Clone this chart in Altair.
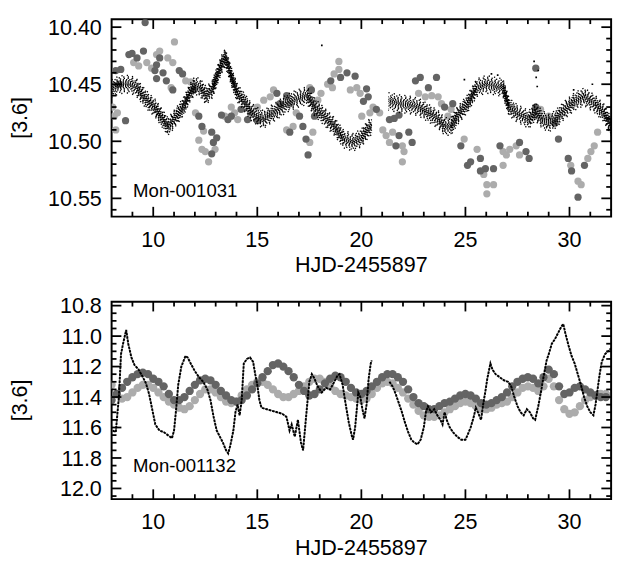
import altair as alt
import pandas as pd

# ---------------- top panel (Mon-001031) ----------------
top_black_t = [8.0, 8.3, 8.6, 8.9, 9.2, 9.5, 9.8, 10.1, 10.4, 10.7, 10.9, 11.2, 11.5, 11.75, 12.0,
               12.25, 12.55, 12.85, 13.1, 13.3, 13.45, 13.6, 13.8, 14.05, 14.35, 14.7, 15.0, 15.3,
               15.6, 15.95, 16.4, 16.85, 17.4, 17.75, 18.2, 18.7, 19.15, 19.6, 20.0, 20.3, 20.5,
               21.3, 21.8, 22.3, 22.75, 23.2, 23.7, 24.0, 24.3, 24.6, 25.1, 25.55, 26.0, 26.5, 26.8,
               27.1, 27.45, 27.75, 28.05, 28.35, 28.7, 29.0, 29.3, 29.8, 30.25, 30.7, 31.2, 31.65, 32.0]
top_black_m = [10.454, 10.451, 10.450, 10.450, 10.453, 10.460, 10.466, 10.471, 10.479, 10.487, 10.483,
               10.476, 10.468, 10.458, 10.451, 10.453, 10.460, 10.454, 10.441, 10.432, 10.427, 10.434,
               10.446, 10.458, 10.465, 10.474, 10.478, 10.481, 10.477, 10.473, 10.467, 10.463, 10.460,
               10.470, 10.478, 10.487, 10.498, 10.501, 10.497, 10.490, 10.486,
               10.465, 10.467, 10.468, 10.470, 10.475, 10.481, 10.487, 10.487, 10.478, 10.467, 10.453,
               10.450, 10.452, 10.453, 10.470, 10.475, 10.478, 10.481, 10.474, 10.481, 10.484, 10.481,
               10.472, 10.465, 10.461, 10.467, 10.475, 10.487]
# a few isolated black outliers above the band
top_out_t = [18.1, 24.95, 26.25, 26.55, 28.3, 28.4, 28.45, 28.5, 30.2, 31.1]
top_out_m = [10.416, 10.446, 10.441, 10.442, 10.430, 10.444, 10.452, 10.438, 10.455, 10.450]

top_dark_t = [8.20, 8.36, 8.44, 8.67, 8.83, 8.98, 9.22, 9.53, 9.61, 10.08, 10.16, 10.31, 10.47, 10.63,
              10.16, 10.94, 11.25, 11.41, 11.95, 12.19, 12.34, 12.81, 12.89, 13.05, 12.81, 13.28, 13.59,
              13.75, 14.22, 14.53, 15.0, 15.94, 16.09, 16.41, 16.56, 17.03, 17.19, 17.34,
              17.6, 17.75, 17.44, 18.53, 19.0, 19.31, 19.7, 20.25, 20.33, 20.1, 20.72, 21.35, 21.58,
              21.81, 21.81, 22.28, 22.44, 21.66, 22.6, 22.83, 23.61, 23.22, 24.0, 24.39, 25.1, 25.25,
              24.78, 25.72, 25.96, 26.35, 25.72, 26.66, 27.6, 27.91, 28.06, 28.38, 28.38, 29.31, 29.47,
              29.94, 30.1, 30.41, 30.72]
top_dark_m = [10.438, 10.450, 10.437, 10.482, 10.424, 10.423, 10.427, 10.421, 10.396, 10.438, 10.433,
              10.427, 10.440, 10.447, 10.445, 10.455, 10.438, 10.441, 10.455, 10.478, 10.487, 10.492,
              10.501, 10.497, 10.511, 10.477, 10.481, 10.478, 10.472, 10.481, 10.482, 10.458, 10.467,
              10.460, 10.492, 10.478, 10.487, 10.498,
              10.455, 10.478, 10.512, 10.447, 10.444, 10.440, 10.443, 10.454, 10.461, 10.465, 10.472,
              10.481, 10.480, 10.477, 10.495, 10.492, 10.501, 10.504, 10.447, 10.444, 10.444, 10.453,
              10.470, 10.467, 10.521, 10.518, 10.504, 10.515, 10.524, 10.524, 10.526, 10.504, 10.501,
              10.509, 10.515, 10.470, 10.436, 10.484, 10.498, 10.515, 10.526, 10.549, 10.521]

top_light_t = [8.05, 8.12, 8.28, 8.20, 9.06, 9.30, 9.69, 9.92, 10.16, 10.31, 11.02, 10.70, 10.94, 10.86,
               11.56, 11.80, 12.03, 12.42, 12.19, 12.34, 12.50, 12.66, 12.97, 13.44, 13.91, 14.06, 13.75,
               14.69, 15.0, 15.31, 15.62, 15.78, 16.56, 16.87, 16.41, 16.72,
               17.52, 17.67, 17.52, 17.91, 18.06, 18.38, 18.61, 18.69, 18.92, 18.92, 19.47, 19.78, 19.94,
               20.02, 20.56, 20.88, 20.41, 21.03, 21.19, 21.35, 21.5, 21.97, 22.05, 21.97, 22.75, 23.07,
               23.38, 23.69, 23.85, 24.16, 24.31, 24.94, 25.56, 25.88, 26.03, 26.03, 26.35, 26.81, 26.97,
               27.13, 27.44, 27.6, 26.81, 28.38, 28.61, 29.0, 30.06, 30.41, 30.56, 30.88, 31.03, 31.19,
               31.35]
top_light_m = [10.470, 10.478, 10.475, 10.490, 10.431, 10.434, 10.431, 10.436, 10.424, 10.421, 10.413,
               10.427, 10.431, 10.453, 10.447, 10.448, 10.475, 10.491, 10.499, 10.507, 10.509, 10.518,
               10.507, 10.478, 10.475, 10.481, 10.470, 10.475, 10.470, 10.464, 10.461, 10.455, 10.467,
               10.475, 10.490, 10.487,
               10.453, 10.492, 10.501, 10.464, 10.458, 10.450, 10.453, 10.441, 10.437, 10.430, 10.455,
               10.453, 10.458, 10.478, 10.470, 10.475, 10.475, 10.490, 10.495, 10.501, 10.492, 10.504,
               10.509, 10.518, 10.458, 10.461, 10.460, 10.461, 10.467, 10.478, 10.472, 10.498, 10.507,
               10.529, 10.538, 10.546, 10.538, 10.509, 10.512, 10.507, 10.504, 10.512, 10.521, 10.478,
               10.472, 10.478, 10.521, 10.535, 10.538, 10.515, 10.509, 10.504, 10.492]

# ---------------- bottom panel (Mon-001132) ----------------
bot_black_t = [8.05, 8.2, 8.35, 8.45, 8.55, 8.7, 8.8, 8.95, 9.1, 9.3, 9.5, 9.65, 9.8, 9.95, 10.1, 10.3,
               10.5, 10.7, 10.9, 11.0, 11.1, 11.2, 11.35, 11.55, 11.65, 11.8, 12.0, 12.2, 12.4, 12.6,
               12.75, 12.9, 13.05, 13.2, 13.35, 13.5, 13.6, 13.7, 13.85, 13.95, 14.05, 14.15, 14.25,
               14.35, 14.5, 14.65, 14.8, 14.9, 15.0, 15.1, 15.2, 15.45, 15.7, 15.95, 16.2, 16.4, 16.55,
               16.65, 16.8, 16.95, 17.1, 17.2, 17.35, 17.5, 17.62, 17.75, 17.9, 18.1, 18.3, 18.5, 18.7,
               18.85, 18.95, 19.1, 19.25, 19.4, 19.55, 19.6, 19.7, 19.8, 19.85, 19.95, 20.05, 20.15,
               20.25, 20.35, 20.45, 20.5,
               21.35, 21.5, 21.65, 21.8, 21.95, 22.1, 22.25, 22.4, 22.55, 22.7, 22.85, 23.0, 23.1, 23.2,
               23.35, 23.5, 23.65, 23.8, 23.9, 24.0, 24.1, 24.25, 24.4, 24.6, 24.8, 25.0, 25.1, 25.25,
               25.4, 25.5, 25.6, 25.75, 25.85, 25.95, 26.05, 26.2, 26.3, 26.45, 26.65, 26.85, 27.05,
               27.2, 27.35, 27.5, 27.65, 27.8, 27.95, 28.1, 28.25, 28.35, 28.5, 28.65, 28.75, 28.9,
               29.0, 29.15, 29.3, 29.45, 29.6, 29.7, 29.8, 29.95, 30.1, 30.25, 30.4, 30.55, 30.7,
               30.85, 31.0, 31.15, 31.25, 31.35, 31.45, 31.55, 31.7, 31.85, 32.0]
bot_black_m = [11.62, 11.63, 11.40, 11.12, 11.05, 10.96, 11.05, 11.14, 11.19, 11.22, 11.27, 11.31, 11.38,
               11.48, 11.58, 11.62, 11.63, 11.65, 11.67, 11.62, 11.48, 11.32, 11.20, 11.13, 11.14, 11.18,
               11.23, 11.27, 11.30, 11.35, 11.42, 11.53, 11.62, 11.66, 11.70, 11.75, 11.77, 11.72, 11.62,
               11.50, 11.45, 11.52, 11.42, 11.18, 11.15, 11.14, 11.17, 11.25, 11.32, 11.42, 11.47, 11.48,
               11.49, 11.50, 11.51, 11.53, 11.62, 11.58, 11.66, 11.55, 11.70, 11.75, 11.52, 11.30, 11.25,
               11.28, 11.33, 11.37, 11.34, 11.35, 11.30, 11.26, 11.25, 11.32, 11.45, 11.57, 11.66, 11.68,
               11.60, 11.45, 11.37, 11.40, 11.48, 11.54, 11.45, 11.28, 11.18, 11.16,
               11.30, 11.33, 11.38, 11.44, 11.50, 11.57, 11.63, 11.68, 11.70, 11.71, 11.68, 11.60, 11.50,
               11.46, 11.50, 11.48, 11.52, 11.55, 11.58, 11.50, 11.55, 11.60, 11.63, 11.66, 11.68, 11.68,
               11.65, 11.60, 11.53, 11.47, 11.50, 11.55, 11.45, 11.37, 11.28, 11.18, 11.22, 11.25, 11.27,
               11.29, 11.30, 11.33, 11.40, 11.46, 11.50, 11.52, 11.48, 11.50, 11.54, 11.55, 11.46, 11.35,
               11.27, 11.16, 11.12, 11.05, 11.02, 10.98, 10.94, 10.92, 10.98, 11.06, 11.13, 11.18, 11.25,
               11.32, 11.40, 11.46, 11.50, 11.52, 11.45, 11.35, 11.25, 11.17, 11.12, 11.10, 11.08]

bot_track_t = [8.0, 8.25, 8.5, 8.75, 9.0, 9.25, 9.5, 9.75, 10.0, 10.25, 10.5, 10.75, 11.0, 11.25, 11.5,
               11.75, 12.0, 12.25, 12.5, 12.75, 13.0, 13.25, 13.5, 13.75, 14.0, 14.25, 14.5, 14.75, 15.0,
               15.25, 15.5, 15.75, 16.0, 16.25, 16.5, 16.75, 17.0, 17.25, 17.5, 17.75, 18.0, 18.25, 18.5,
               18.75, 19.0, 19.25, 19.5, 19.75, 20.0, 20.25, 20.5, 20.75, 21.0, 21.25, 21.5, 21.75, 22.0,
               22.25, 22.5, 22.75, 23.0, 23.25, 23.5, 23.75, 24.0, 24.25, 24.5, 24.75, 25.0, 25.25, 25.5,
               25.75, 26.0, 26.25, 26.5, 26.75, 27.0, 27.25, 27.5, 27.75, 28.0, 28.25, 28.5, 28.75, 29.0,
               29.25, 29.5, 29.75, 30.0, 30.25, 30.5, 30.75, 31.0, 31.25, 31.5, 31.75]
bot_dark_m = [11.42, 11.38, 11.34, 11.30, 11.27, 11.25, 11.24, 11.25, 11.28, 11.30, 11.33, 11.38, 11.42,
              11.42, 11.40, 11.36, 11.32, 11.29, 11.28, 11.29, 11.32, 11.36, 11.39, 11.42, 11.43, 11.42,
              11.39, 11.35, 11.31, 11.27, 11.23, 11.19, 11.18, 11.20, 11.23, 11.27, 11.32, 11.36, 11.39,
              11.38, 11.35, 11.31, 11.28, 11.26, 11.27, 11.30, 11.34, 11.37, 11.38, 11.36, 11.33, 11.30,
              11.27, 11.25, 11.25, 11.27, 11.30, 11.35, 11.40, 11.44, 11.46, 11.48, 11.48, 11.46, 11.44,
              11.43, 11.41, 11.39, 11.38, 11.39, 11.41, 11.44, 11.45, 11.44, 11.42, 11.40, 11.37, 11.33,
              11.30, 11.28, 11.27, 11.28, 11.31, 11.27, 11.22, 11.25, 11.33, 11.38, 11.37, 11.34, 11.33,
              11.35, 11.37, 11.39, 11.40, 11.40]
bot_light_m = [11.32, 11.38, 11.41, 11.40, 11.37, 11.34, 11.32, 11.32, 11.34, 11.37, 11.40, 11.43, 11.45,
               11.47, 11.48, 11.46, 11.42, 11.38, 11.35, 11.35, 11.37, 11.40, 11.43, 11.44, 11.43, 11.39,
               11.35, 11.32, 11.30, 11.30, 11.32, 11.35, 11.38, 11.40, 11.40, 11.38, 11.36, 11.33, 11.30,
               11.28, 11.28, 11.30, 11.33, 11.36, 11.38, 11.39, 11.40, 11.41, 11.42, 11.41, 11.38, 11.34,
               11.31, 11.30, 11.31, 11.34, 11.37, 11.41, 11.45, 11.49, 11.52, 11.53, 11.53, 11.52, 11.50,
               11.48, 11.46, 11.44, 11.43, 11.44, 11.46, 11.48, 11.48, 11.47, 11.45, 11.44, 11.43, 11.40,
               11.37, 11.34, 11.33, 11.34, 11.36, 11.33, 11.28, 11.33, 11.42, 11.48, 11.51, 11.50, 11.46,
               11.42, 11.40, 11.39, 11.38, 11.38]

# ---------------- axes / ticks ----------------
x_major = [10, 15, 20, 25, 30]
x_minor = [9, 11, 12, 13, 14, 16, 17, 18, 19, 21, 22, 23, 24, 26, 27, 28, 29, 31]
top_y_major = [10.40, 10.45, 10.50, 10.55]
top_y_minor = [10.41, 10.42, 10.43, 10.44, 10.46, 10.47, 10.48, 10.49, 10.51, 10.52, 10.53, 10.54, 10.56]
bot_y_major = [10.8, 11.0, 11.2, 11.4, 11.6, 11.8, 12.0]
bot_y_minor = [10.85, 10.9, 10.95, 11.05, 11.1, 11.15, 11.25, 11.3, 11.35, 11.45, 11.5, 11.55, 11.65,
               11.7, 11.75, 11.85, 11.9, 11.95, 12.05]
x_title = "HJD-2455897"
y_title = "[3.6]"

GAP_DAY = 21.0  # observing gap: trace is split into two runs here

FONT = "Liberation Sans"
W, H = 511, 202
MAJ, MIN = 10, 5
TICKW = 1.8
FS = 22
VBAR = "M0,-1L0,1"   # symbol path for a vertical tick
HBAR = "M-1,0L1,0"   # symbol path for a horizontal tick


def panel(black_df, out_df, dark_df, light_df, ydom, ymaj, ymin, yfmt, name, name_y, band):
    xs = alt.Scale(domain=[8, 32], nice=False, zero=False)
    ys = alt.Scale(domain=ydom, nice=False, zero=False, reverse=True)
    X = alt.X("t:Q", scale=xs, axis=None)
    Y = alt.Y("m:Q", scale=ys, axis=None)
    XV = alt.X("v:Q", scale=xs, axis=None)
    YV = alt.Y("v:Q", scale=ys, axis=None)

    circ = 55 if band else 72
    layers = [
        alt.Chart(light_df).mark_circle(size=circ, color="#acacac", opacity=1, clip=True).encode(x=X, y=Y),
        alt.Chart(dark_df).mark_circle(size=circ, color="#646464", opacity=1, clip=True).encode(x=X, y=Y),
    ]
    if band:
        # dense scatter band drawn as offset copies of the light curve with irregular dotting
        copies = [(-9.0, 4.2, 0.0), (-7.4, 3.4, 1.3), (-6.0, 2.6, 2.2), (-4.7, 2.0, 0.7),
                  (-3.5, 1.5, 1.6), (-2.3, 1.2, 0.3), (-1.1, 1.0, 1.1), (0.0, 0.9, 0.5),
                  (1.1, 1.0, 1.4), (2.3, 1.3, 0.9), (3.5, 1.6, 1.9), (4.7, 2.1, 0.2),
                  (6.0, 2.7, 2.6), (7.4, 3.5, 1.0), (9.0, 4.4, 0.6)]
        for off, gap, dof in copies:
            layers.append(
                alt.Chart(black_df).mark_line(color="black", strokeWidth=1.4, strokeDash=[1.3, gap],
                                              strokeDashOffset=dof, yOffset=off, clip=True)
                .encode(x=X, y=Y, detail="seg:N")
            )
        layers.append(
            alt.Chart(out_df).mark_square(size=3, color="black", opacity=1, clip=True).encode(x=X, y=Y)
        )
    else:
        layers.append(
            alt.Chart(black_df).mark_line(color="black", strokeWidth=2.0, strokeDash=[2.6, 1.0], clip=True)
            .encode(x=X, y=Y, detail="seg:N")
        )
        layers.append(
            alt.Chart(black_df).mark_line(color="black", strokeWidth=0.8, opacity=0.6, clip=True)
            .encode(x=X, y=Y, detail="seg:N")
        )

    # inward tick marks on all four sides, drawn as stroked symbol paths
    def tick_mark(shape, size):
        return alt.Chart().mark_point(shape=shape, size=size * size, filled=False, stroke="black",
                                      strokeWidth=TICKW, opacity=1)

    def xt(vals, size):
        d = pd.DataFrame({"v": vals})
        return [
            tick_mark(VBAR, size).properties(data=d).encode(x=XV, y=alt.value(H - size / 2)),
            tick_mark(VBAR, size).properties(data=d).encode(x=XV, y=alt.value(size / 2)),
        ]

    def yt(vals, size):
        d = pd.DataFrame({"v": vals})
        return [
            tick_mark(HBAR, size).properties(data=d).encode(y=YV, x=alt.value(size / 2)),
            tick_mark(HBAR, size).properties(data=d).encode(y=YV, x=alt.value(W - size / 2)),
        ]

    layers += xt(x_major, MAJ) + xt(x_minor, MIN) + yt(ymaj, MAJ) + yt(ymin, MIN)

    # tick labels and axis titles as text marks placed through the same scales
    layers.append(
        alt.Chart(pd.DataFrame({"lx": x_major})).mark_text(
            align="center", baseline="top", font=FONT, fontSize=FS, color="black"
        ).encode(x=alt.X("lx:Q", scale=xs, axis=None), y=alt.value(H + 14),
                 text=alt.Text("lx:Q", format=".0f"))
    )
    layers.append(
        alt.Chart(pd.DataFrame({"ly": ymaj})).mark_text(
            align="right", baseline="middle", font=FONT, fontSize=FS, color="black", dy=1
        ).encode(y=alt.Y("ly:Q", scale=ys, axis=None), x=alt.value(-10),
                 text=alt.Text("ly:Q", format=yfmt))
    )
    layers.append(
        alt.Chart(pd.DataFrame({"label": [x_title]})).mark_text(
            align="center", baseline="top", font=FONT, fontSize=FS, color="black"
        ).encode(x=alt.value(W / 2), y=alt.value(H + 40), text="label:N")
    )
    layers.append(
        alt.Chart(pd.DataFrame({"label": [y_title]})).mark_text(
            align="center", baseline="middle", font=FONT, fontSize=FS, color="black", angle=270
        ).encode(x=alt.value(-94), y=alt.value(H / 2), text="label:N")
    )
    layers.append(
        alt.Chart(pd.DataFrame({"label": [name]})).mark_text(
            align="left", baseline="middle", font=FONT, fontSize=19, color="black"
        ).encode(x=alt.value(22), y=alt.value(name_y), text="label:N")
    )
    return alt.layer(*layers).properties(width=W, height=H)


def black_frame(t, m):
    return pd.DataFrame({"t": t, "m": m, "seg": [0 if v < GAP_DAY else 1 for v in t]})


top_black = black_frame(top_black_t, top_black_m)
top_out = pd.DataFrame({"t": top_out_t, "m": top_out_m})
top_dark = pd.DataFrame({"t": top_dark_t, "m": top_dark_m})
top_light = pd.DataFrame({"t": top_light_t, "m": top_light_m})
bot_black = black_frame(bot_black_t, bot_black_m)
bot_dark = pd.DataFrame({"t": bot_track_t, "m": bot_dark_m})
bot_light = pd.DataFrame({"t": bot_track_t, "m": bot_light_m})

top = panel(top_black, top_out, top_dark, top_light, [10.393, 10.566], top_y_major, top_y_minor, ".2f",
            "Mon-001031", 176, True)
bot = panel(bot_black, None, bot_dark, bot_light, [10.774, 12.07], bot_y_major, bot_y_minor, ".1f",
            "Mon-001132", 168, False)

chart = (
    alt.vconcat(top, bot, spacing=18)
    .properties(padding={"left": 0, "top": 0, "right": 0, "bottom": 0}, background="white")
    .configure_view(stroke="black", strokeWidth=2)
    .configure_axis(grid=False)
)

chart.save("out.html", embed_options={"renderer": "svg", "actions": False})
